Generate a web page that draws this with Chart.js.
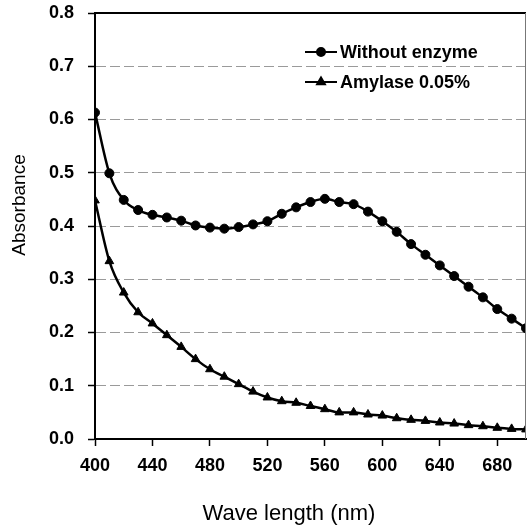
<!DOCTYPE html>
<html>
<head>
<meta charset="utf-8">
<script src="https://cdn.jsdelivr.net/npm/chart.js@4"></script>
<style>
  html, body { margin: 0; padding: 0; background: #fff; }
  #wrap { width: 532px; height: 529px; }
</style>
</head>
<body>
<div id="wrap"><canvas id="absChart" width="532" height="529"></canvas></div>
<script>
// wavelengths (nm) and absorbance
const wavelengths = [400, 410, 420, 430, 440, 450, 460, 470, 480, 490, 500, 510, 520, 530, 540,
  550, 560, 570, 580, 590, 600, 610, 620, 630, 640, 650, 660, 670, 680, 690, 700];
const withoutEnzyme = [0.613, 0.499, 0.449, 0.430, 0.421, 0.416, 0.410, 0.401, 0.397, 0.395, 0.398,
  0.403, 0.409, 0.423, 0.435, 0.445, 0.451, 0.445, 0.441, 0.427, 0.409, 0.389, 0.366, 0.346,
  0.326, 0.306, 0.286, 0.266, 0.244, 0.226, 0.208];
const amylase = [0.448, 0.334, 0.275, 0.238, 0.217, 0.195, 0.173, 0.150, 0.131, 0.117, 0.103,
  0.089, 0.078, 0.071, 0.068, 0.062, 0.056, 0.050, 0.050, 0.046, 0.044, 0.039, 0.036, 0.034,
  0.031, 0.029, 0.026, 0.024, 0.021, 0.019, 0.018];
const seriesNames = ['Without enzyme', 'Amylase 0.05%'];
const xTicks = [400, 440, 480, 520, 560, 600, 640, 680];
const yTicks = [0.0, 0.1, 0.2, 0.3, 0.4, 0.5, 0.6, 0.7, 0.8];
const xTitle = 'Wave length (nm)';
const yTitle = 'Absorbance';

const FONT = "Arial, 'Liberation Sans', sans-serif";

const toPoints = vals => vals.map((v, i) => ({ x: wavelengths[i], y: v }));

// frame, axis titles and the line+marker legend
const extras = {
  id: 'extras',
  afterDraw(chart) {
    const { ctx, chartArea: a } = chart;
    ctx.save();
    ctx.strokeStyle = '#000';
    ctx.lineWidth = 2;
    ctx.beginPath();
    ctx.moveTo(a.left, a.top);
    ctx.lineTo(a.right, a.top);
    ctx.stroke();
    ctx.lineWidth = 1;
    ctx.strokeStyle = '#777';
    ctx.beginPath();
    ctx.moveTo(a.right - 0.5, a.top);
    ctx.lineTo(a.right - 0.5, a.bottom);
    ctx.stroke();

    ctx.fillStyle = '#000';
    ctx.textAlign = 'center';
    ctx.textBaseline = 'middle';
    ctx.font = '22px ' + FONT;
    ctx.fillText(xTitle, a.left + (a.right - a.left) * 0.45, 514);
    ctx.translate(20, 205);
    ctx.rotate(-Math.PI / 2);
    ctx.font = '19px ' + FONT;
    ctx.fillText(yTitle, 0, 0);
    ctx.restore();

    // legend
    ctx.save();
    ctx.font = 'bold 18px ' + FONT;
    ctx.textAlign = 'left';
    ctx.textBaseline = 'middle';
    chart.data.datasets.forEach((ds, i) => {
      const y = 52 + i * 30;
      ctx.strokeStyle = '#000';
      ctx.lineWidth = 2;
      ctx.beginPath();
      ctx.moveTo(305, y);
      ctx.lineTo(337, y);
      ctx.stroke();
      Chart.helpers.drawPoint(ctx, {
        pointStyle: ds.pointStyle, radius: ds.pointRadius - 0.5, borderWidth: 1
      }, 321, y);
      ctx.fillStyle = '#000';
      ctx.fillText(ds.label, 340, y + 1);
    });
    ctx.restore();
  }
};

const ctx = document.getElementById('absChart').getContext('2d');
new Chart(ctx, {
  type: 'line',
  data: {
    datasets: [
      {
        label: seriesNames[0], data: toPoints(withoutEnzyme),
        borderColor: '#000', backgroundColor: '#000', borderWidth: 2.5,
        pointStyle: 'circle', pointRadius: 4.5, pointBorderWidth: 1,
        cubicInterpolationMode: 'monotone'
      },
      {
        label: seriesNames[1], data: toPoints(amylase),
        borderColor: '#000', backgroundColor: '#000', borderWidth: 2.5,
        pointStyle: 'triangle', pointRadius: 5, pointBorderWidth: 1,
        cubicInterpolationMode: 'monotone'
      }
    ]
  },
  options: {
    responsive: false,
    animation: false,
    layout: { padding: { top: 13, right: 1, left: 0, bottom: 0 } },
    plugins: { legend: { display: false }, tooltip: { enabled: false } },
    scales: {
      x: {
        type: 'linear', min: 400, max: 700,
        afterBuildTicks: s => { s.ticks = xTicks.map(v => ({ value: v })); },
        afterFit: s => { s.height = 90; s.paddingLeft = 0; s.paddingRight = 0; },
        grid: { drawOnChartArea: false, tickLength: 7, tickColor: '#000', tickWidth: 1.5 },
        border: { color: '#000', width: 2 },
        ticks: { color: '#000', padding: 9, maxRotation: 0, font: { family: FONT, size: 18, weight: 'bold' } }
      },
      y: {
        min: 0, max: 0.8,
        afterBuildTicks: s => { s.ticks = yTicks.map(v => ({ value: v })); },
        afterFit: s => { s.width = 95; s.paddingTop = 0; s.paddingBottom = 0; },
        grid: { color: '#9a9a9a', lineWidth: 1, tickLength: 7, tickColor: '#000', tickWidth: 1.5 },
        border: { color: '#000', width: 2, dash: [10, 4] },
        ticks: {
          color: '#000', padding: 14,
          callback: v => v.toFixed(1),
          font: { family: FONT, size: 18, weight: 'bold' }
        }
      }
    }
  },
  plugins: [extras]
});
</script>
</body>
</html>
